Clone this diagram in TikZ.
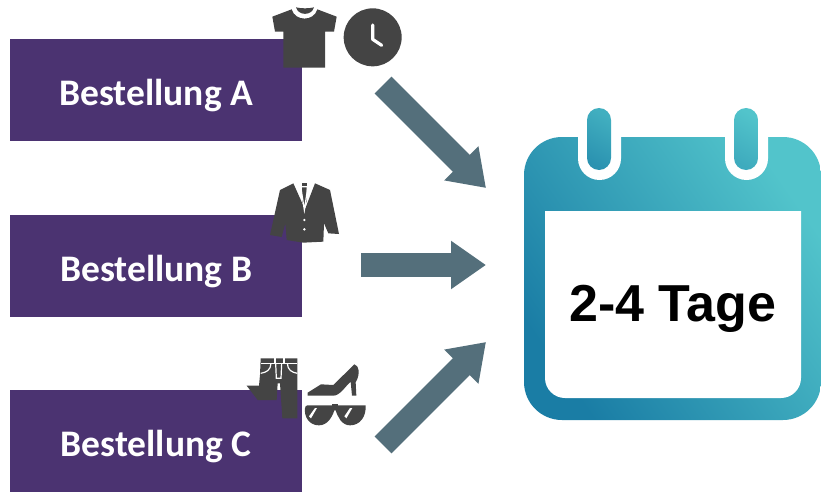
\documentclass[tikz,border=0pt]{standalone}
\usepackage{fontspec}
\setmainfont{Carlito}
\newfontfamily\arialfont{Liberation Sans}
\usetikzlibrary{arrows.meta}
\definecolor{boxpurple}{HTML}{4B3371}
\definecolor{arrowslate}{HTML}{546F7B}
\definecolor{icongrey}{HTML}{444444}
\definecolor{caldark}{HTML}{1A7DA5}
\definecolor{callight}{HTML}{52C4CB}
\newcommand{\orderlabel}[1]{\raisebox{-15pt}[0pt][0pt]{#1}}
\tikzset{
  orderbox/.style={fill=boxpurple,draw=none,minimum width=292pt,minimum height=102pt,inner sep=0pt,text=white,font=\bfseries\fontsize{37.5}{42}\selectfont},
  flowarrow/.style={draw=arrowslate,line width=24pt,-{Triangle[length=35pt,width=46pt]}},
  icon/.style={fill=icongrey,draw=none},
  iconline/.style={draw=white,line width=1.2pt,fill=none},
  zoomed/.style={x=0.33333pt,y=-0.33333pt},
}
\begin{document}
\begin{tikzpicture}[x=1pt,y=-1pt]
\useasboundingbox (0,0) rectangle (821,492);
% order boxes
\node[orderbox,anchor=north west] (a) at (10,39) {\orderlabel{Bestellung A}};
\node[orderbox,anchor=north west] (b) at (10,215) {\orderlabel{Bestellung B}};
\node[orderbox,anchor=north west] (c) at (10,390) {\orderlabel{Bestellung C}};
% arrows
\coordinate (a1) at (383,85);
\coordinate (a2) at (486,188);
\coordinate (b1) at (361,265);
\coordinate (b2) at (486,265);
\coordinate (c1) at (383,445);
\coordinate (c2) at (486,342);
\draw[flowarrow] (a1) -- (a2);
\draw[flowarrow] (b1) -- (b2);
\draw[flowarrow] (c1) -- (c2);
% calendar
\shade[left color=caldark,right color=callight,shading angle=125,rounded corners=38pt]
  (524,137) rectangle (821,420);
\fill[white,rounded corners=21.5pt] (578,90) rectangle (621,180);
\fill[white,rounded corners=21.5pt] (725,90) rectangle (768,180);
\fill[white] (578,100) rectangle (621,137);
\fill[white] (725,100) rectangle (768,137);
\begin{scope}
\clip[rounded corners=12pt] (587,108) rectangle (611,170);
\shade[left color=caldark!70!callight,right color=callight!70!caldark,shading angle=150] (587,108) rectangle (611,170);
\end{scope}
\begin{scope}
\clip[rounded corners=12pt] (734,108) rectangle (758,170);
\shade[left color=caldark!35!callight,right color=callight,shading angle=150] (734,108) rectangle (758,170);
\end{scope}
\fill[white] (545,211) -- (801,211) -- (801,378) arc[start angle=0,end angle=90,x radius=20pt,y radius=-20pt] -- (565,398) arc[start angle=90,end angle=180,x radius=20pt,y radius=-20pt] -- cycle;
\node[font=\arialfont\bfseries\fontsize{52}{58}\selectfont,text=black,inner sep=0pt] (t) at (673,309) {2-4 Tage};
% t-shirt and clock
\begin{scope}[shift={(240,0)},zoomed]
\fill[icon] (97,50) -- (155,28) .. controls (165,65) and (222,65) .. (232,28) -- (290,50) -- (282,95) -- (255,95) -- (255,203) -- (130,203) -- (130,95) -- (105,95) -- cycle;
\fill[icon] (168,22) .. controls (175,48) and (215,48) .. (222,22) .. controls (205,26) and (185,26) .. cycle;
\fill[icon] (398,112) circle[radius=87];
\draw[draw=white,line width=3.2pt,line cap=round,line join=round] (398,75) -- (398,118) -- (425,136);
\end{scope}
% jacket
\begin{scope}[shift={(240,170)},zoomed]
\fill[icon] (160,40) -- (120,60) -- (90,195) -- (125,201) -- (136,160) -- (140,210) -- (190,218) -- (250,215) -- (252,160) -- (265,190) -- (297,192) -- (270,60) -- (225,40) -- (195,118) -- cycle;
\fill[icon] (186,38) rectangle (200,48);
\fill[icon] (186,52) -- (200,52) -- (200,95) -- (193,108) -- (186,95) -- cycle;
\draw[iconline] (182,48) -- (193,120) -- (204,48);
\fill[white] (193,150) circle[radius=4];
\fill[white] (193,178) circle[radius=4];
\end{scope}
% trousers, shoe, glasses
\begin{scope}[shift={(235,345)},zoomed]
\fill[icon] (77,40) -- (187,40) -- (187,220) -- (142,220) -- (135,115) -- (128,115) -- (125,165) -- (68,165) -- (35,122) -- (72,122) -- (75,90) -- cycle;
\draw[iconline] (77,55) -- (187,55);
\draw[iconline] (120,40) -- (120,55) (147,40) -- (147,55);
\draw[iconline] (122,55) -- (124,100) -- (138,100) -- (140,55);
\draw[iconline] (77,85) .. controls (95,82) and (107,75) .. (108,55);
\draw[iconline] (187,85) .. controls (170,82) and (158,75) .. (157,55);
\fill[icon] (218,143) -- (258,118) -- (295,120) -- (358,58) .. controls (370,60) and (378,85) .. (362,112) -- (364,152) -- (351,152) -- (347,110) .. controls (330,125) and (315,152) .. (295,152) -- (218,152) -- cycle;
\fill[icon] (218,181) -- (392,181) .. controls (394,215) and (375,241) .. (345,241) .. controls (320,241) and (308,215) .. (302,196) -- (298,196) .. controls (292,215) and (278,241) .. (252,241) .. controls (222,241) and (207,215) .. (210,190) .. controls (210,184) and (213,181) .. cycle;
\fill[icon] (292,178) rectangle (308,185);
\fill[white] (222,214) -- (240,189) -- (246,189) -- (228,220) -- cycle;
\fill[white] (328,214) -- (345,189) -- (352,189) -- (334,220) -- cycle;
\end{scope}
\end{tikzpicture}
\end{document}
